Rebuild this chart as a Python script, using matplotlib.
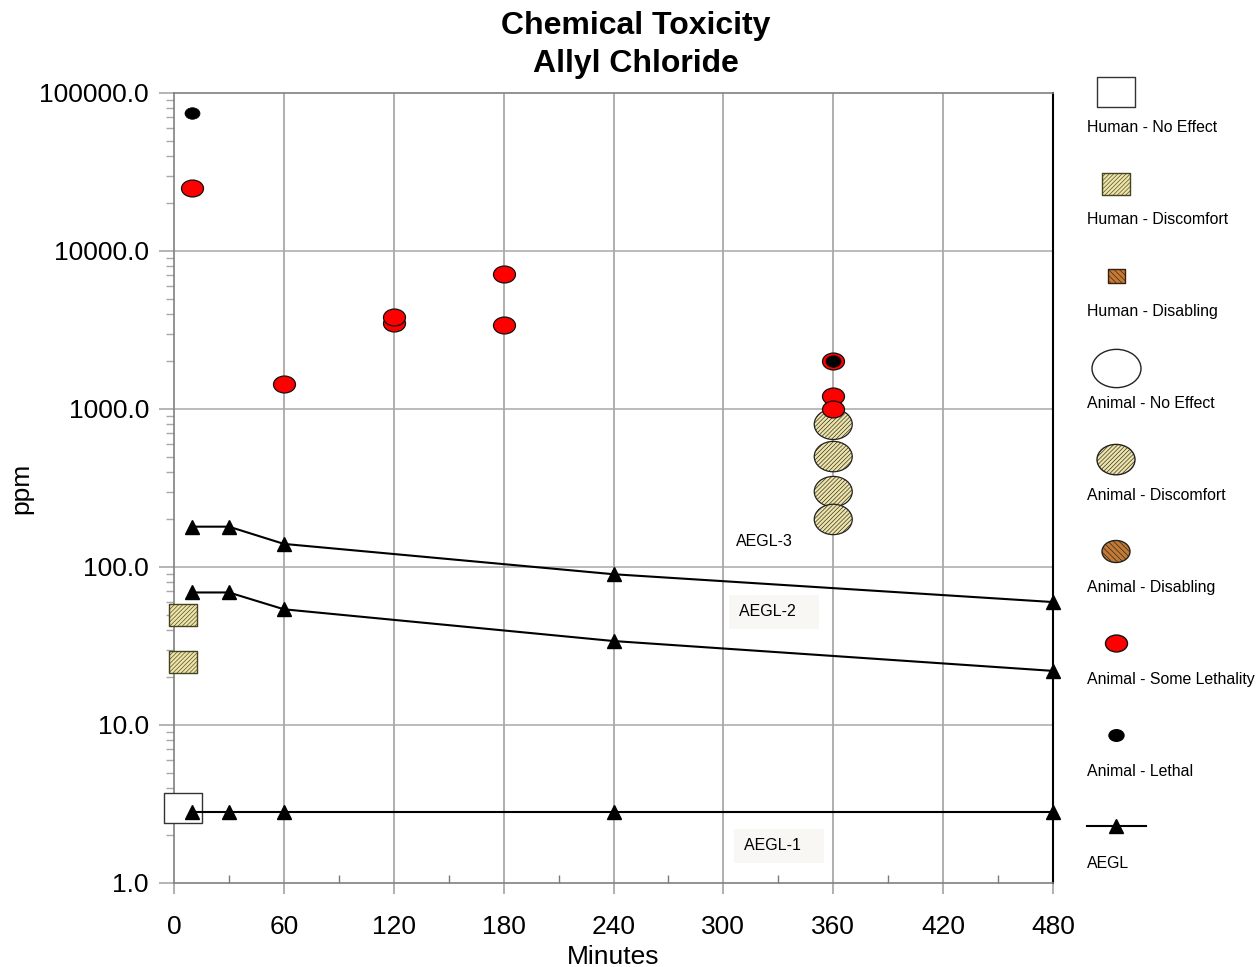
import matplotlib.pyplot as plt
from matplotlib.path import Path
from matplotlib.ticker import FixedLocator, FuncFormatter, LogLocator, NullFormatter
import numpy as np

plt.rcParams['font.family'] = ['Liberation Sans', 'DejaVu Sans']
plt.rcParams['hatch.linewidth'] = 0.45

# ---------------- data ----------------
aegl_minutes = [10, 30, 60, 240, 480]
aegl3_ppm = [180, 180, 140, 90, 60]
aegl2_ppm = [69, 69, 54, 34, 22]
aegl1_ppm = [2.8, 2.8, 2.8, 2.8, 2.8]

human_noeffect_min = [5]
human_noeffect_ppm = [3.0]
human_discomfort_min = [5, 5]
human_discomfort_ppm = [50, 25]

animal_discomfort_min = [360, 360, 360, 360]
animal_discomfort_ppm = [800, 500, 300, 200]
animal_somelethal_min = [10, 60, 120, 120, 180, 180, 360, 360, 360]
animal_somelethal_ppm = [25000, 1450, 3500, 3800, 7200, 3400, 2000, 1200, 1000]
animal_lethal_min = [10, 360]
animal_lethal_ppm = [75000, 2000]

x_ticks = [0, 60, 120, 180, 240, 300, 360, 420, 480]
y_ticks = [1, 10, 100, 1000, 10000, 100000]

legend_labels = ['Human - No Effect', 'Human - Discomfort', 'Human - Disabling',
                 'Animal - No Effect', 'Animal - Discomfort', 'Animal - Disabling',
                 'Animal - Some Lethality', 'Animal - Lethal', 'AEGL']

# ---------------- marker shapes ----------------
def rect_marker(aspect):
    return Path([(-aspect, -1), (aspect, -1), (aspect, 1), (-aspect, 1), (-aspect, -1)],
                [Path.MOVETO, Path.LINETO, Path.LINETO, Path.LINETO, Path.CLOSEPOLY])

def ellipse_marker(aspect):
    c = Path.unit_circle()
    v = c.vertices.copy()
    v[:, 0] *= aspect
    return Path(v, c.codes)

PX = 0.72  # points per pixel at dpi 100
TAN = '#efe4a8'
TAN_HATCH = '#c4b274'
BROWN = '#c27a34'
BROWN_HATCH = '#4a2a10'
FINE = '////////'


def pts2(px):
    return (px * PX) ** 2


fig = plt.figure(figsize=(12.57, 9.67), dpi=100)
ax = fig.add_axes([174 / 1257, 1 - 883 / 967, 879 / 1257, 790 / 967])

ax.set_yscale('log')
ax.set_xlim(0, 480)
ax.set_ylim(1, 100000)

# grid
for xv in x_ticks[1:-1]:
    ax.axvline(xv, color='#9a9a9a', lw=1.1, zorder=0)
for yv in y_ticks[1:-1]:
    ax.axhline(yv, color='#a8a8a8', lw=1.1, zorder=0)

# AEGL lines
for yvals in (aegl3_ppm, aegl2_ppm, aegl1_ppm):
    ax.plot(aegl_minutes, yvals, color='black', lw=1.5, marker='^', markersize=10,
            clip_on=False, zorder=6)

# human
ax.scatter(human_noeffect_min, human_noeffect_ppm, marker=rect_marker(1.3), s=pts2(38),
           facecolor='white', edgecolor='#333333', linewidths=1.0, clip_on=False, zorder=4)
plt.rcParams['hatch.color'] = TAN_HATCH
ax.scatter(human_discomfort_min, human_discomfort_ppm, marker=rect_marker(1.27), s=pts2(28),
           facecolor=TAN, edgecolor='#444422', linewidths=1.0, hatch=FINE,
           clip_on=False, zorder=4)

# animal
ax.scatter(animal_discomfort_min, animal_discomfort_ppm, marker=ellipse_marker(1.25),
           s=pts2(38), facecolor=TAN, edgecolor='#222222', linewidths=0.9,
           hatch=FINE, zorder=4)
ax.scatter(animal_somelethal_min, animal_somelethal_ppm, marker=ellipse_marker(1.3),
           s=pts2(22), facecolor='#ff0000', edgecolor='#111111', linewidths=0.9, zorder=5)
ax.scatter(animal_lethal_min, animal_lethal_ppm, marker=ellipse_marker(1.3),
           s=pts2(15), facecolor='black', edgecolor='black', linewidths=0.5, zorder=5)

# AEGL labels
ax.text(307, 144, 'AEGL-3', fontsize=11.5, va='center', ha='left')
ax.text(308.5, 52, 'AEGL-2   ', fontsize=11.5, va='center', ha='left',
        bbox=dict(facecolor='#f9f7f4', edgecolor='none', pad=7))
ax.text(311, 1.72, 'AEGL-1   ', fontsize=11.5, va='center', ha='left',
        bbox=dict(facecolor='#f9f7f4', edgecolor='none', pad=7))

# ticks
ax.xaxis.set_major_locator(FixedLocator(x_ticks))
ax.xaxis.set_minor_locator(FixedLocator(np.arange(30, 480, 60)))
ax.yaxis.set_major_locator(FixedLocator(y_ticks))
ax.yaxis.set_minor_locator(LogLocator(base=10, subs=np.arange(2, 10)))
ax.yaxis.set_minor_formatter(NullFormatter())
ax.yaxis.set_major_formatter(FuncFormatter(lambda v, p: '%.1f' % v))
ax.tick_params(axis='x', which='major', direction='out', length=8, width=1.1,
               color='#9a9a9a', labelsize=19, pad=15)
ax.tick_params(axis='x', which='minor', direction='in', length=6, width=1.0,
               color='#7a7a7a')
ax.tick_params(axis='y', which='major', direction='out', length=11, width=1.1,
               color='#a0a0a0', labelsize=19, pad=7)
ax.tick_params(axis='y', which='minor', direction='out', length=6, width=1.0,
               color='#a8a8a8')

for side in ('top', 'bottom', 'left'):
    ax.spines[side].set_color('#808080')
    ax.spines[side].set_linewidth(1.2)
ax.spines['right'].set_color('black')
ax.spines['right'].set_linewidth(1.5)

ax.set_xlabel('Minutes', fontsize=19, labelpad=4)
ax.set_ylabel('ppm', fontsize=19)
ax.yaxis.set_label_coords(-0.1595, 0.5)

fig.text(636 / 1257, 1 - 26 / 967, 'Chemical Toxicity', fontsize=23, fontweight='bold',
         ha='center', va='center')
fig.text(636 / 1257, 1 - 64 / 967, 'Allyl Chloride', fontsize=23, fontweight='bold',
         ha='center', va='center')

# ---------------- legend (drawn in pixel layout on the right) ----------------
lg = fig.add_axes([0, 0, 1, 1], frameon=False)
lg.set_xlim(0, 1257)
lg.set_ylim(967, 0)
lg.set_axis_off()

legend_styles = [
    dict(marker=rect_marker(1.3), w=38, fc='white', ec='#333333', hatch=None, hc=None),
    dict(marker=rect_marker(1.27), w=28, fc=TAN, ec='#444422', hatch=FINE, hc=TAN_HATCH),
    dict(marker=rect_marker(1.25), w=17, fc=BROWN, ec='#3a2010', hatch='\\\\\\\\\\\\', hc=BROWN_HATCH),
    dict(marker=ellipse_marker(1.28), w=49, fc='white', ec='#222222', hatch=None, hc=None),
    dict(marker=ellipse_marker(1.25), w=38, fc=TAN, ec='#222222', hatch=FINE, hc=TAN_HATCH),
    dict(marker=ellipse_marker(1.27), w=28, fc=BROWN, ec='#222222', hatch='\\\\\\\\\\\\', hc=BROWN_HATCH),
    dict(marker=ellipse_marker(1.3), w=22, fc='#ff0000', ec='#111111', hatch=None, hc=None),
    dict(marker=ellipse_marker(1.3), w=15, fc='black', ec='black', hatch=None, hc=None),
]

row_gap = 91.9
for i, label in enumerate(legend_labels):
    my = 92 + row_gap * i
    if i < len(legend_styles):
        st = legend_styles[i]
        if st['hc']:
            plt.rcParams['hatch.color'] = st['hc']
        lg.scatter([1116], [my], marker=st['marker'], s=pts2(st['w']), facecolor=st['fc'],
                   edgecolor=st['ec'], linewidths=1.0, hatch=st['hatch'])
    else:
        lg.plot([1087, 1146], [my - 1, my - 1], color='black', lw=1.5)
        lg.plot([1116], [my - 1], color='black', marker='^', markersize=10)
    lg.text(1087, my + 36, label, fontsize=11.4, ha='left', va='center')

fig.savefig('out.png', dpi=100)
